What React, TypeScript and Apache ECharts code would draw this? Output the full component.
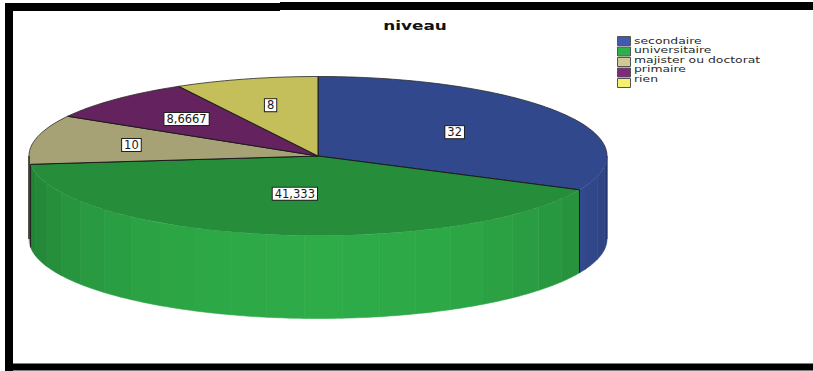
import React, { useEffect, useRef } from "react";
import * as echarts from "echarts";

const WIDTH = 813;
const HEIGHT = 371;

// Survey results: education level, percent of respondents
const categories = ["secondaire", "universitaire", "majister ou doctorat", "primaire", "rien"];
const percentages = [32, 41.333, 10, 8.6667, 8];
const baseColors = ["#3f5ab0", "#2fb14a", "#d0ca92", "#7d2a77", "#f5ef70"];

// Disc geometry: ellipse of the top face and thickness of the rim
const CX = 318;
const CY = 156;
const RX = 289;
const RY = 79.5;
const DEPTH = 83;
const RIM_BAND_DEG = 7.5;
// Where each value tag sits along its slice's radius (fraction of the radius)
const tagRadius = [0.56, 0.48, 0.66, 0.65, 0.66];

// Legend rows
const LEGEND_LEFT = 617;
const LEGEND_TOP = 36;
const LEGEND_ROW = 9.5;

const total = percentages.reduce((a, b) => a + b, 0);

function shade(hex: string, k: number): string {
  const n = parseInt(hex.slice(1), 16);
  const ch = (s: number) => Math.round(((n >> s) & 255) * k);
  return `rgb(${ch(16)},${ch(8)},${ch(0)})`;
}

// Angles are in degrees, clockwise from twelve o'clock
function rimPoint(deg: number, drop = 0): [number, number] {
  const t = (deg * Math.PI) / 180;
  return [CX + RX * Math.sin(t), CY - RY * Math.cos(t) + drop];
}

function arcPoints(from: number, to: number, drop = 0): [number, number][] {
  const steps = Math.max(1, Math.ceil(Math.abs(to - from)));
  const pts: [number, number][] = [];
  for (let i = 0; i <= steps; i++) pts.push(rimPoint(from + ((to - from) * i) / steps, drop));
  return pts;
}

function verticalEdge(deg: number, stroke: string, lineWidth: number) {
  const [x, y] = rimPoint(deg);
  return { type: "line", shape: { x1: x, y1: y, x2: x, y2: y + DEPTH }, style: { stroke, lineWidth } };
}

function sliceRenderer(index: number) {
  return (_params: unknown, api: any) => {
    const start = api.value(0) as number;
    const end = api.value(1) as number;
    const base = baseColors[index];
    const children: any[] = [];

    // Front rim, built from flat facets
    const rimFrom = Math.max(start, 90);
    const rimTo = Math.min(end, 270);
    if (rimTo > rimFrom) {
      for (let a = rimFrom; a < rimTo; a += RIM_BAND_DEG) {
        const b = Math.min(a + RIM_BAND_DEG, rimTo);
        const mid = ((a + b) / 2 - 180) * (Math.PI / 180);
        const fill = shade(base, 0.7 + 0.27 * Math.cos(mid));
        children.push({
          type: "polygon",
          shape: { points: [...arcPoints(a, b), ...arcPoints(b, a, DEPTH)] },
          style: { fill, stroke: fill, lineWidth: 0.6 },
        });
      }
    }

    // Top face
    children.push({
      type: "polygon",
      shape: { points: [[CX, CY], ...arcPoints(start, end)] },
      style: { fill: shade(base, 0.8) },
    });

    // Dark edges: the radii, the back of the rim and the slice's vertical corners
    children.push({
      type: "polyline",
      shape: { points: [rimPoint(start), [CX, CY], rimPoint(end)] },
      style: { stroke: "#1c1c1c", lineWidth: 1, fill: "none" },
    });
    const backRanges: [number, number][] = [
      [start, Math.min(end, 90)],
      [Math.max(start, 270), end],
    ];
    backRanges.forEach(([a, b]) => {
      if (b > a) {
        children.push({
          type: "polyline",
          shape: { points: arcPoints(a, b) },
          style: { stroke: "#2a2a2a", lineWidth: 0.8, fill: "none" },
        });
      }
    });
    if (start > 90 && start < 270) children.push(verticalEdge(start, "#1c1c1c", 1));
    if (start < 90 && end > 90) children.push(verticalEdge(90, "#232f66", 1));
    if (start < 270 && end > 270) children.push(verticalEdge(270, "#1c1c1c", 1.4));

    // Value tag
    const midAngle = ((start + end) / 2) * (Math.PI / 180);
    children.push({
      type: "text",
      z2: 50,
      style: {
        x: CX + RX * tagRadius[index] * Math.sin(midAngle),
        y: CY - RY * tagRadius[index] * Math.cos(midAngle),
        text: String(api.value(2)).replace(".", ","),
        align: "center",
        verticalAlign: "middle",
        fontFamily: "DejaVu Sans",
        fontSize: 11.5,
        lineHeight: 12,
        fill: "#1a1a1a",
        backgroundColor: "#ffffff",
        borderColor: "#222222",
        borderWidth: 1,
        padding: [0, 2],
      },
    });
    return { type: "group", children };
  };
}

export default function App() {
  const ref = useRef<HTMLDivElement>(null);

  useEffect(() => {
    const chart = echarts.init(ref.current!, null, { renderer: "svg" });
    let running = 0;
    const series = categories.map((name, i) => {
      const start = (running / total) * 360;
      running += percentages[i];
      const end = (running / total) * 360;
      return {
        type: "custom",
        name,
        coordinateSystem: "none",
        itemStyle: { color: baseColors[i] },
        renderItem: sliceRenderer(i),
        data: [[start, end, percentages[i]]],
        silent: true,
      };
    });

    chart.setOption({
      animation: false,
      backgroundColor: "#ffffff",
      // The legend draws the swatches; its wide, low captions are scaled text below
      legend: {
        orient: "vertical",
        left: LEGEND_LEFT,
        top: LEGEND_TOP,
        padding: 0,
        itemWidth: 13,
        itemHeight: 9,
        itemGap: 0.5,
        selectedMode: false,
        formatter: () => "",
        textStyle: { fontSize: 8, lineHeight: 9 },
        data: categories.map((name, i) => ({
          name,
          icon: "rect",
          itemStyle: { color: baseColors[i], borderColor: "#555555", borderWidth: 1 },
        })),
      },
      graphic: [
        // Heavy frame, open on the right
        { type: "rect", shape: { x: 5, y: 3, width: 8, height: 368 }, style: { fill: "#000" } },
        { type: "rect", shape: { x: 5, y: 3, width: 275, height: 8 }, style: { fill: "#000" } },
        { type: "rect", shape: { x: 280, y: 2, width: 533, height: 8 }, style: { fill: "#000" } },
        { type: "rect", shape: { x: 5, y: 363.5, width: 808, height: 7 }, style: { fill: "#000" } },
        {
          type: "text",
          x: 415,
          y: 26,
          scaleX: 1.3,
          style: {
            text: "niveau",
            align: "center",
            verticalAlign: "middle",
            fontFamily: "DejaVu Sans",
            fontWeight: "bold",
            fontSize: 13,
            fill: "#111",
          },
        },
        ...categories.map((name, i) => ({
          type: "text",
          x: LEGEND_LEFT + 17,
          y: LEGEND_TOP + 5 + LEGEND_ROW * i,
          scaleX: 1.38,
          style: {
            text: name,
            align: "left",
            verticalAlign: "middle",
            fontFamily: "DejaVu Sans",
            fontSize: 9,
            fill: "#2a2a2a",
          },
        })),
      ],
      series,
    });
    return () => chart.dispose();
  }, []);

  return (
    <div
      ref={ref}
      style={{ position: "absolute", left: 0, top: 0, width: WIDTH, height: HEIGHT }}
    />
  );
}
